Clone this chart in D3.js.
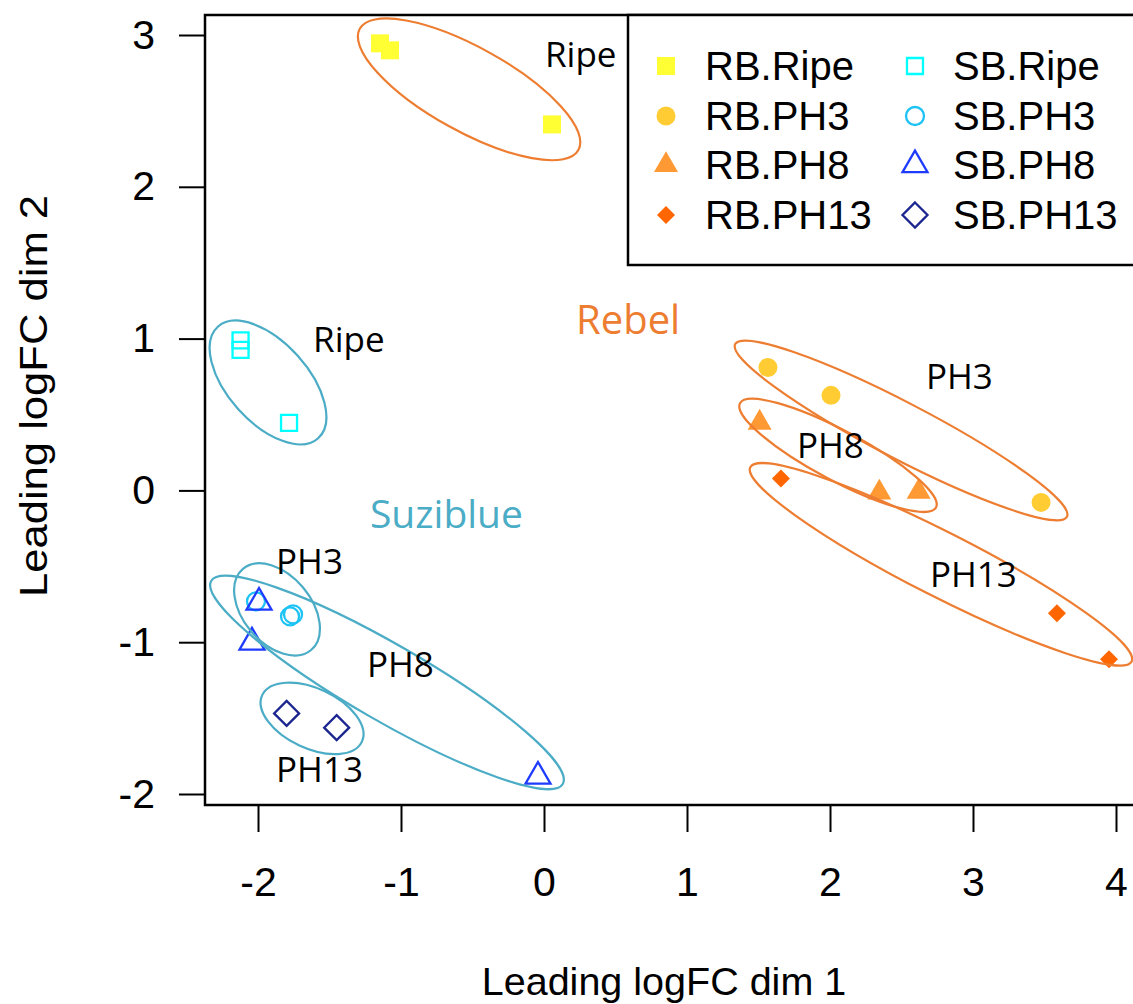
<!DOCTYPE html>
<html>
<head>
<meta charset="utf-8">
<script src="https://cdnjs.cloudflare.com/ajax/libs/d3/7.8.5/d3.min.js"></script>
<style>
  html, body { margin: 0; padding: 0; background: #ffffff; }
  svg { display: block; }
</style>
</head>
<body>
<svg id="chart" width="1133" height="1004"></svg>
<script>
// ---------------- DATA ----------------
const groups      = ["RB.Ripe", "RB.PH3", "RB.PH8", "RB.PH13", "SB.Ripe", "SB.PH3", "SB.PH8", "SB.PH13"];
const groupColors = ["#FFFF33", "#FFCC33", "#FF9933", "#FF6600", "#00FFFF", "#1EC3F5", "#1F3BFF", "#1C2690"];
const groupShapes = ["square", "circle", "triangle", "diamond", "square", "circle", "triangle", "diamond"];
const groupFilled = [true, true, true, true, false, false, false, false];

// MDS sample coordinates (Leading logFC dim 1 / dim 2)
const sampleGroup = ["RB.Ripe", "RB.Ripe", "RB.Ripe",
                     "RB.PH3", "RB.PH3", "RB.PH3",
                     "RB.PH8", "RB.PH8", "RB.PH8",
                     "RB.PH13", "RB.PH13", "RB.PH13",
                     "SB.Ripe", "SB.Ripe", "SB.Ripe",
                     "SB.PH3", "SB.PH3", "SB.PH3",
                     "SB.PH8", "SB.PH8", "SB.PH8",
                     "SB.PH13", "SB.PH13"];
const sampleDim1 = [-1.147, -1.077, 0.056,
                    1.566, 2.007, 3.476,
                    1.508, 2.345, 2.620,
                    1.657, 3.587, 3.951,
                    -2.122, -2.122, -1.783,
                    -2.014, -1.776, -1.755,
                    -1.993, -2.042, -0.042,
                    -1.800, -1.450];
const sampleDim2 = [2.945, 2.899, 2.411,
                    0.810, 0.626, -0.079,
                    0.446, -0.015, -0.009,
                    0.079, -0.810, -1.113,
                    0.988, 0.926, 0.445,
                    -0.731, -0.830, -0.817,
                    -0.738, -1.001, -1.884,
                    -1.469, -1.563];

const xTicks = [-2, -1, 0, 1, 2, 3, 4];
const yTicks = [-2, -1, 0, 1, 2, 3];
const xTitle = "Leading logFC dim 1";
const yTitle = "Leading logFC dim 2";

// cluster annotations (ellipse centres in data units)
const ellipseCultivar = ["Rebel", "Rebel", "Rebel", "Rebel", "Suziblue", "Suziblue", "Suziblue", "Suziblue"];
const ellipseDim1 = [-0.524, 2.497, 2.056, 2.776, -1.930, -1.867, -1.098, -1.622];
const ellipseDim2 = [2.642, 0.395, 0.231, -0.487, 0.711, -0.784, -1.265, -1.502];

const clusterLabelText = ["Ripe", "PH3", "PH8", "PH13", "Ripe", "PH3", "PH8", "PH13"];
const clusterLabelDim1 = [0.007, 2.671, 1.769, 2.699, -1.615, -1.874, -1.238, -1.874];
const clusterLabelDim2 = [2.787, 0.665, 0.211, -0.639, 0.909, -0.553, -1.232, -1.924];

const cultivarNames = ["Rebel", "Suziblue"];
const cultivarDim1  = [0.224, -1.217];
const cultivarDim2  = [1.028, -0.250];

// ---------------- LAYOUT / STYLE ----------------
const cultivarColor = { "Rebel": "#ED7D31", "Suziblue": "#4BACC6" };
const ellipseRx    = [125, 187, 111, 214, 75, 53, 203, 55];
const ellipseRy    = [42, 28, 25, 32, 40, 34, 38, 30];
const ellipseAngle = [29, 27.5, 28, 27, 48, 50, 30, 25];
const cultivarFontSize = [40, 39];

const AX_FONT = "'Liberation Sans', Arial, Helvetica, sans-serif";
const ANN_FONT = "'Open Sans', 'Noto Sans', sans-serif";

const box = { left: 205, top: 15, right: 1160, bottom: 805 };

const x = d3.scaleLinear().domain([-2, 4]).range([258, 1116]);
const y = d3.scaleLinear().domain([-2, 3]).range([794, 35]);

const svg = d3.select("#chart");

function markerPath(shape, filled) {
  const p = d3.path();
  if (shape === "square") {
    const s = filled ? 18 : 16;
    p.rect(-s / 2, -s / 2, s, s);
  } else if (shape === "circle") {
    const r = filled ? 9.5 : 9;
    p.moveTo(r, 0);
    p.arc(0, 0, r, 0, 2 * Math.PI);
    p.closePath();
  } else if (shape === "triangle") {
    const w = filled ? 24 : 25;
    const h = w * Math.sqrt(3) / 2;
    p.moveTo(0, -2 * h / 3);
    p.lineTo(w / 2, h / 3);
    p.lineTo(-w / 2, h / 3);
    p.closePath();
  } else {
    const d = filled ? 18 : 25;
    p.moveTo(0, -d / 2);
    p.lineTo(d / 2, 0);
    p.lineTo(0, d / 2);
    p.lineTo(-d / 2, 0);
    p.closePath();
  }
  return p.toString();
}

function styleMarker(sel, gi) {
  const filled = groupFilled[gi];
  sel.attr("d", markerPath(groupShapes[gi], filled))
     .attr("fill", filled ? groupColors[gi] : "none")
     .attr("stroke", filled ? "none" : groupColors[gi])
     .attr("stroke-width", filled ? 0 : 2.3);
}

// ---------------- AXES ----------------
const xAxis = d3.axisBottom(x).tickValues(xTicks).tickSize(27).tickPadding(35).tickFormat(d3.format("d"));
const gx = svg.append("g").attr("transform", `translate(0,${box.bottom})`).call(xAxis);
gx.select(".domain").remove();
gx.selectAll(".tick line").attr("stroke", "#000").attr("stroke-width", 2);
gx.selectAll(".tick text").attr("font-family", AX_FONT).attr("font-size", 41).attr("fill", "#000")
  .text(d => d < 0 ? "-" + Math.abs(d) : String(d));

const yAxis = d3.axisLeft(y).tickValues(yTicks).tickSize(26).tickPadding(24).tickFormat(d3.format("d"));
const gy = svg.append("g").attr("transform", `translate(${box.left},0)`).call(yAxis);
gy.select(".domain").remove();
gy.selectAll(".tick line").attr("stroke", "#000").attr("stroke-width", 2);
gy.selectAll(".tick text").attr("font-family", AX_FONT).attr("font-size", 41).attr("fill", "#000")
  .text(d => d < 0 ? "-" + Math.abs(d) : String(d));

svg.append("text")
  .attr("x", 664).attr("y", 995)
  .attr("text-anchor", "middle")
  .attr("font-family", AX_FONT).attr("font-size", 39.5).attr("fill", "#000")
  .text(xTitle);

svg.append("text")
  .attr("transform", "translate(47,396) rotate(-90)")
  .attr("text-anchor", "middle")
  .attr("font-family", AX_FONT).attr("font-size", 39).attr("fill", "#000")
  .attr("textLength", 402).attr("lengthAdjust", "spacingAndGlyphs")
  .text(yTitle);

// ---------------- POINTS ----------------
const gPts = svg.append("g");
sampleGroup.forEach((g, i) => {
  const gi = groups.indexOf(g);
  gPts.append("path")
    .attr("transform", `translate(${x(sampleDim1[i])},${y(sampleDim2[i])})`)
    .call(styleMarker, gi);
});

// ---------------- ELLIPSES & ANNOTATIONS ----------------
const gAnn = svg.append("g");
ellipseCultivar.forEach((c, i) => {
  gAnn.append("ellipse")
    .attr("transform", `translate(${x(ellipseDim1[i])},${y(ellipseDim2[i])}) rotate(${ellipseAngle[i]})`)
    .attr("rx", ellipseRx[i]).attr("ry", ellipseRy[i])
    .attr("fill", "none")
    .attr("stroke", cultivarColor[c])
    .attr("stroke-width", 2.2);
});

clusterLabelText.forEach((t, i) => {
  gAnn.append("text")
    .attr("x", x(clusterLabelDim1[i])).attr("y", y(clusterLabelDim2[i]))
    .attr("font-family", ANN_FONT).attr("font-size", 35).attr("fill", "#000")
    .text(t);
});

cultivarNames.forEach((t, i) => {
  gAnn.append("text")
    .attr("x", x(cultivarDim1[i])).attr("y", y(cultivarDim2[i]))
    .attr("font-family", ANN_FONT).attr("font-size", cultivarFontSize[i])
    .attr("fill", cultivarColor[t])
    .text(t);
});

// ---------------- FRAME ----------------
svg.append("rect")
  .attr("x", box.left).attr("y", box.top)
  .attr("width", box.right - box.left).attr("height", box.bottom - box.top)
  .attr("fill", "none").attr("stroke", "#000").attr("stroke-width", 2.5);

// ---------------- LEGEND ----------------
const legend = svg.append("g");
legend.append("rect")
  .attr("x", 628).attr("y", box.top)
  .attr("width", 560).attr("height", 250)
  .attr("fill", "#fff").attr("stroke", "#000").attr("stroke-width", 2.5);

const legColX = [666, 915];
const legTextX = [705, 953];
const legRowY = [66, 116, 165, 215];
groups.forEach((g, gi) => {
  const col = gi < 4 ? 0 : 1;
  const row = gi % 4;
  legend.append("path")
    .attr("transform", `translate(${legColX[col]},${legRowY[row]})`)
    .call(styleMarker, gi);
  legend.append("text")
    .attr("x", legTextX[col]).attr("y", legRowY[row])
    .attr("dy", "0.36em")
    .attr("font-family", AX_FONT).attr("font-size", 40).attr("fill", "#000")
    .text(g);
});
</script>
</body>
</html>
